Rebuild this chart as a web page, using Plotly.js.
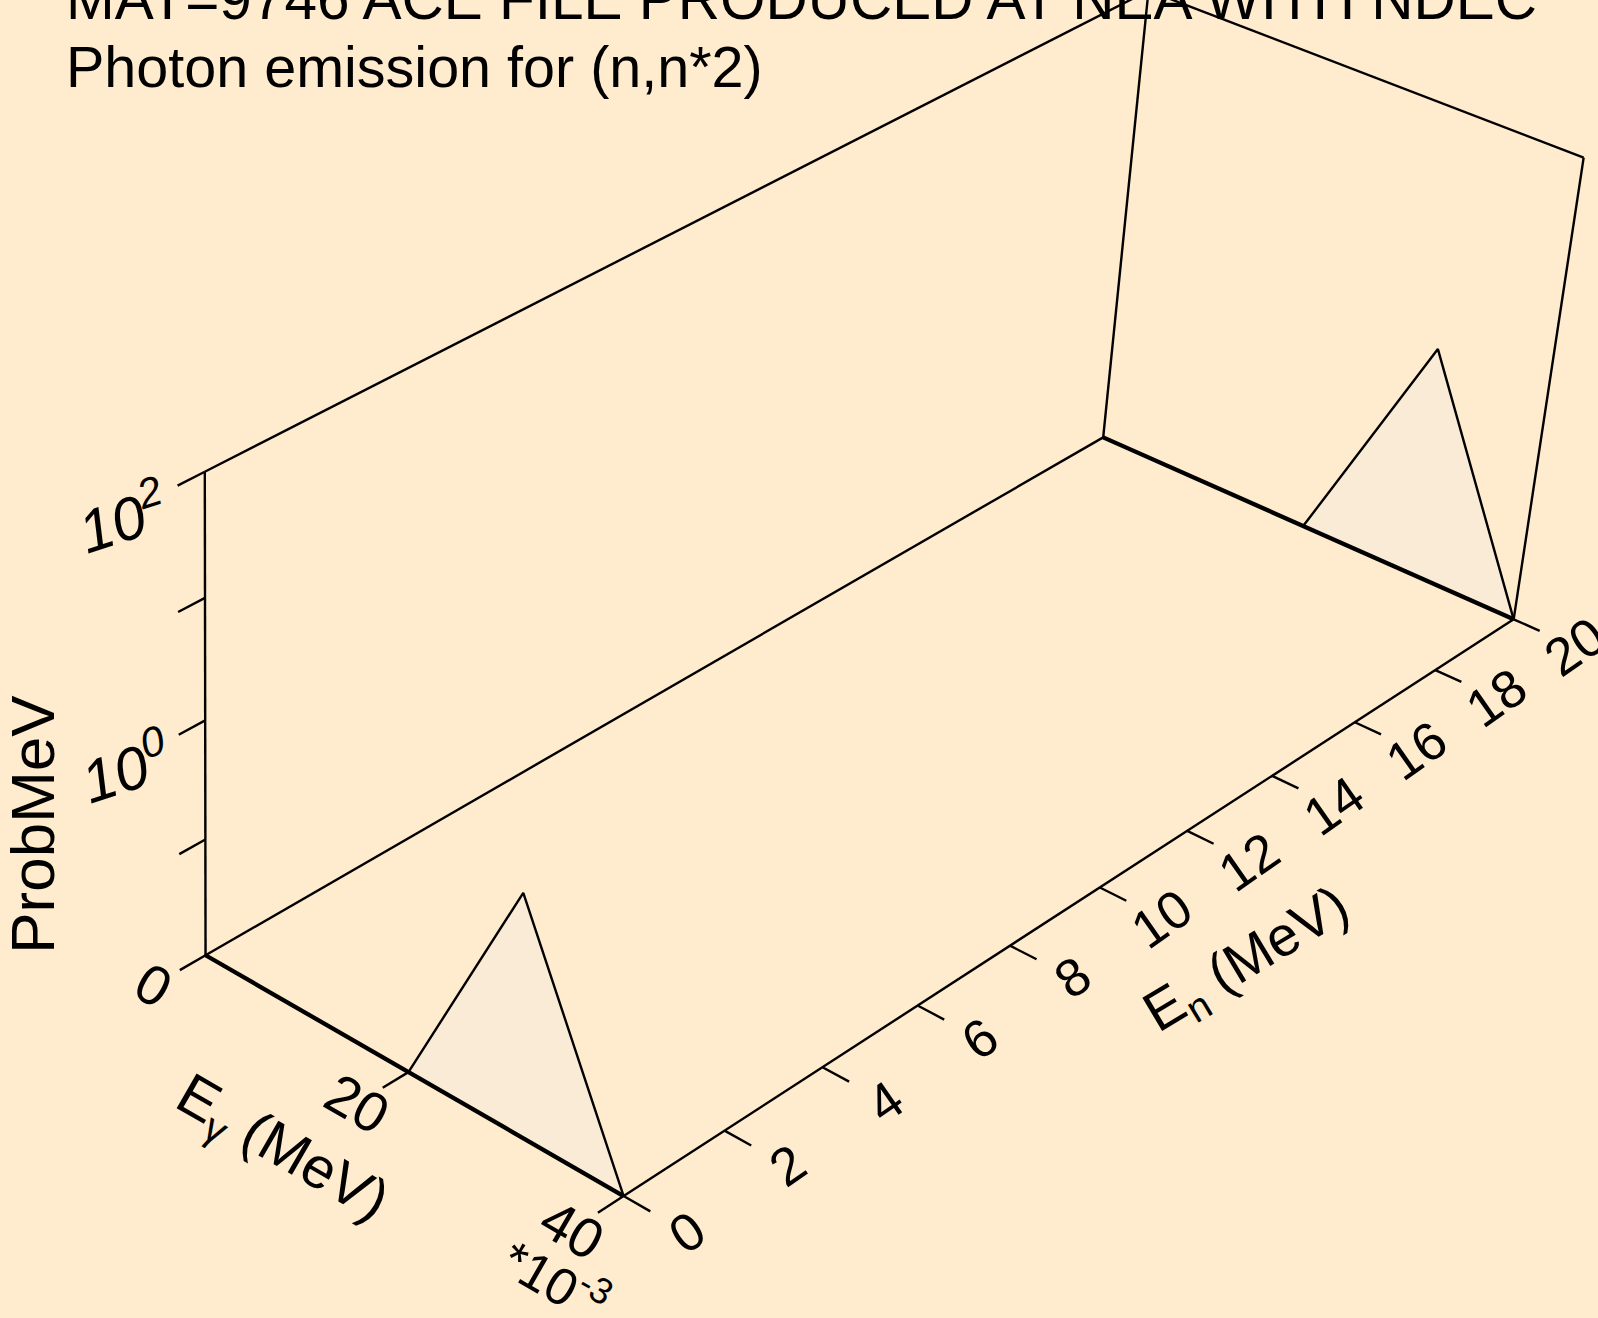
<!DOCTYPE html>
<html><head><meta charset="utf-8">
<script src="https://cdn.plot.ly/plotly-3.0.1.min.js"></script>
<style>html,body{margin:0;padding:0;background:#FFEBCD;} #chart{width:1598px;height:1318px;}</style>
</head><body><div id="chart"></div>
<script>
// ---------------- data ----------------
const titleLine1 = "MAT=9746 ACE FILE PRODUCED AT NEA WITH NDEC";
const titleLine2 = "Photon emission for (n,n*2)";
const incidentEnergy = [0, 20];                 // MeV (one spectrum per incident energy)
const photonEnergy = [0, 0.02, 0.03, 0.04];     // MeV
const probPerMeV_E0 = [0, 0, 1.0, 0];
const probPerMeV_E20 = [0, 0, 1.0, 0];
const egTickValues = [0, 0.02, 0.04];
const egTickLabels = ["0", "20", "40"];
const egScaleLabel = "*10<sup>-3</sup>";
const enTickValues = [0, 2, 4, 6, 8, 10, 12, 14, 16, 18, 20];
const enTickLabels = ["0", "2", "4", "6", "8", "10", "12", "14", "16", "18", "20"];
const probTickDecades = [-1, 0, 1, 2];
const probLabelDecades = [0, 2];
const probLabels = ["10<sup>0</sup>", "10<sup>2</sup>"];
const egRange = [0, 0.04];
const enRange = [0, 20];
const logProbRange = [-2, 2];
const egTitle = "E<sub>γ</sub> (MeV)";
const enTitle = "E<sub>n</sub> (MeV)";
const probTitle = "ProbMeV";

// ---------------- view (perspective calibration of the unit box) ----------------
const viewCorners = [
  [0, 0, 0, 205, 955],
  [1, 0, 0, 624, 1196],
  [1, 1, 0, 1513, 620],
  [0, 1, 0, 1104, 437],
  [0, 0, 1, 205, 472],
  [1, 1, 1, 1584, 157],
  [0, 1, 1, 1148, -9]
];
const FONT = "Liberation Sans, Arial, Helvetica, sans-serif";
const BG = "#FFEBCD";
const FILL = "#FAEBD7";
const THIN = 2.4, THICK = 4.3;
const W = 1598, H = 1318;

function fitCamera(pts) {
  const A = [], b = [];
  for (const [X, Y, Z, px, py] of pts) {
    const x = px / 1000, y = py / 1000;
    A.push([X, Y, Z, 1, 0, 0, 0, 0, -x * X, -x * Y, -x * Z]); b.push(x);
    A.push([0, 0, 0, 0, X, Y, Z, 1, -y * X, -y * Y, -y * Z]); b.push(y);
  }
  const n = 11;
  const M = Array.from({length: n}, () => new Array(n + 1).fill(0));
  for (let r = 0; r < A.length; r++) {
    for (let i = 0; i < n; i++) {
      for (let j = 0; j < n; j++) M[i][j] += A[r][i] * A[r][j];
      M[i][n] += A[r][i] * b[r];
    }
  }
  for (let c = 0; c < n; c++) {
    let p = c;
    for (let r = c + 1; r < n; r++) if (Math.abs(M[r][c]) > Math.abs(M[p][c])) p = r;
    [M[c], M[p]] = [M[p], M[c]];
    for (let r = 0; r < n; r++) {
      if (r === c) continue;
      const f = M[r][c] / M[c][c];
      for (let k = c; k <= n; k++) M[r][k] -= f * M[c][k];
    }
  }
  return M.map((row, i) => row[n] / row[i]);
}
const P = fitCamera(viewCorners);
function project(u, v, w) {
  const d = P[8] * u + P[9] * v + P[10] * w + 1;
  return [1000 * (P[0] * u + P[1] * v + P[2] * w + P[3]) / d,
          1000 * (P[4] * u + P[5] * v + P[6] * w + P[7]) / d];
}
const uOf = e => (e - egRange[0]) / (egRange[1] - egRange[0]);
const vOf = e => (e - enRange[0]) / (enRange[1] - enRange[0]);
const wOf = p => p > 0 ? Math.max(0, Math.min(1, (Math.log10(p) - logProbRange[0]) / (logProbRange[1] - logProbRange[0]))) : 0;
const wOfDecade = d => (d - logProbRange[0]) / (logProbRange[1] - logProbRange[0]);

const traces = [];
function seg(pts3, width, extra) {
  const xs = [], ys = [];
  for (const q of pts3) { const [x, y] = project(q[0], q[1], q[2]); xs.push(x); ys.push(y); }
  traces.push(Object.assign({type: 'scatter', mode: 'lines', x: xs, y: ys, hoverinfo: 'skip',
    line: {color: '#000', width: width}}, extra || {}));
}

// spectra (filled)
const spectra = [probPerMeV_E0, probPerMeV_E20];
incidentEnergy.forEach((en, k) => {
  const pts = photonEnergy.map((eg, i) => [uOf(eg), vOf(en), wOf(spectra[k][i])]);
  seg(pts, THIN, {fill: 'toself', fillcolor: FILL});
});

// box edges
seg([[0,0,0],[0,0,1]], THIN);
seg([[0,0,1],[0,1,1]], THIN);
seg([[0,1,0],[0,1,1]], THIN);
seg([[0,1,1],[1,1,1]], THIN);
seg([[1,1,0],[1,1,1]], THIN);
seg([[0,0,0],[0,1,0]], THIN);
seg([[1,0,0],[1,1,0]], THIN);
seg([[0,0,0],[1,0,0]], THICK);
seg([[0,1,0],[1,1,0]], THICK);

// ticks
const tv = 0.025, tu = 0.06;
probTickDecades.forEach(d => seg([[0,0,wOfDecade(d)],[0,-tv,wOfDecade(d)]], THIN));
egTickValues.forEach(e => seg([[uOf(e),0,0],[uOf(e),-tv,0]], THIN));
enTickValues.forEach(e => seg([[1,vOf(e),0],[1+tu,vOf(e),0]], THIN));

// labels
const ann = [];
function label(u, v, w, text, size, angle) {
  const [x, y] = project(u, v, w);
  ann.push({x, y, xref: 'x', yref: 'y', text, showarrow: false, textangle: angle,
    font: {family: FONT, size, color: '#000'}, xanchor: 'center', yanchor: 'middle'});
}
egTickValues.forEach((e, i) => label(uOf(e), -0.05, 0, egTickLabels[i], 56, 30));
label(1.07, -0.095, 0, egScaleLabel, 52, 30);
enTickValues.forEach((e, i) => label(1.14, vOf(e), 0, enTickLabels[i], 53, -35));
probLabelDecades.forEach((d, i) => label(0, -0.075, wOfDecade(d) - 0.005, "<i>" + probLabels[i] + "</i>", 60, -18));
label(0.5, -0.122, 0, egTitle, 58, 30);
label(1.33, 0.5, 0, enTitle, 56, -31);
label(0, -0.16, 0.48, probTitle, 62, -90);

// title (two lines, the first one partly above the top edge as in the original)
ann.push({x: 64 / W, y: 1 + 2 / H, xref: 'paper', yref: 'paper', xanchor: 'left', yanchor: 'middle', showarrow: false,
  text: titleLine1, font: {family: FONT, size: 58.5, color: '#000'}});
ann.push({x: 64 / W, y: 1 - 67 / H, xref: 'paper', yref: 'paper', xanchor: 'left', yanchor: 'middle', showarrow: false,
  text: titleLine2, font: {family: FONT, size: 57.5, color: '#000'}});

const layout = {
  width: W, height: H,
  margin: {l: 0, r: 0, t: 0, b: 0, pad: 0},
  paper_bgcolor: BG, plot_bgcolor: BG,
  showlegend: false,
  xaxis: {range: [0, W], visible: false, fixedrange: true},
  yaxis: {range: [H, 0], visible: false, fixedrange: true},
  annotations: ann
};
Plotly.newPlot('chart', traces, layout, {staticPlot: true, displayModeBar: false});
</script>
</body></html>
